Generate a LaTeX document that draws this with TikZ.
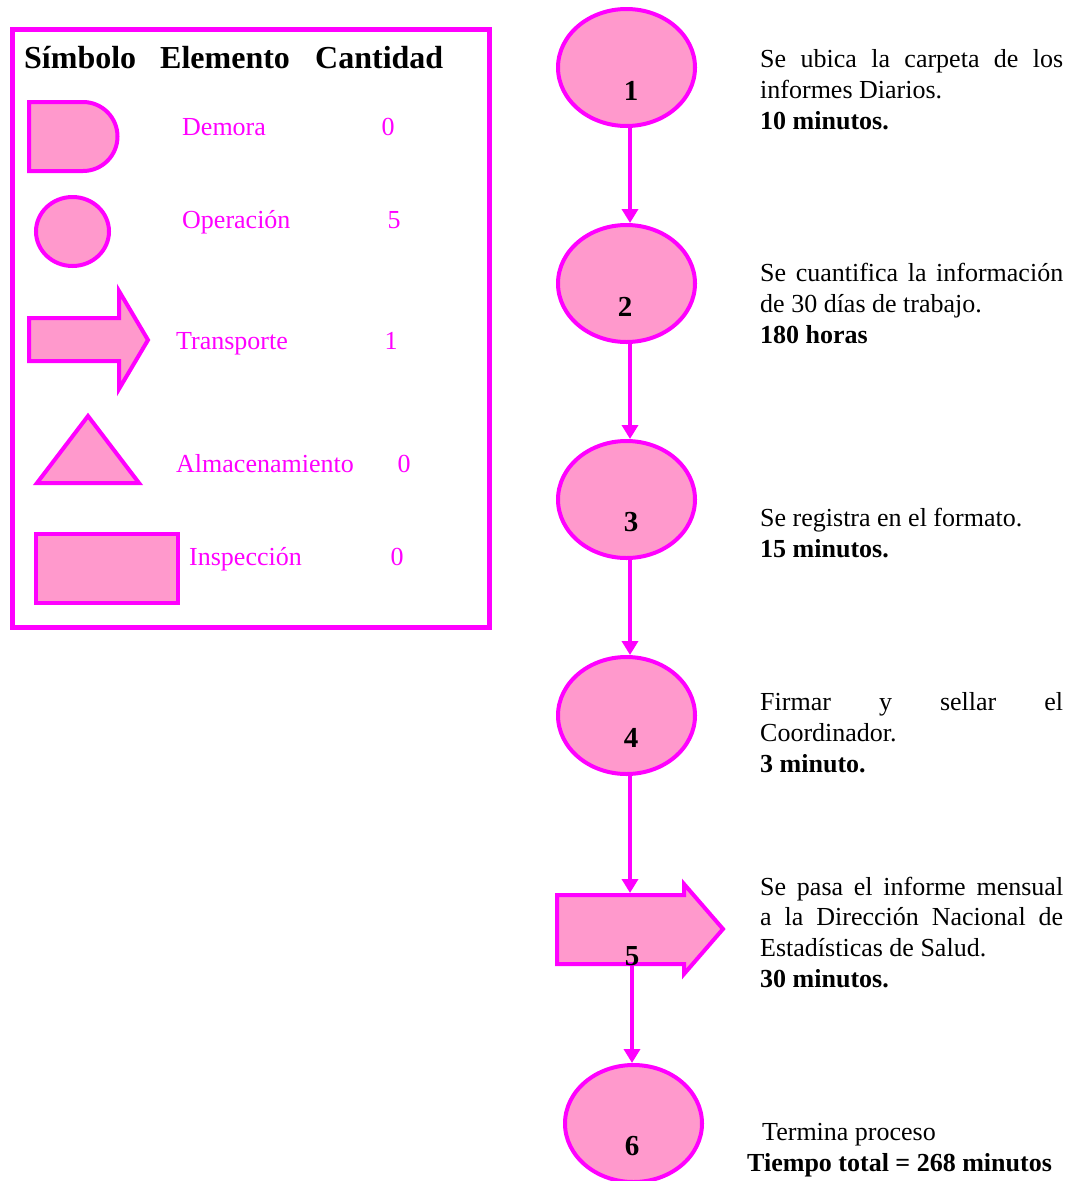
\documentclass[tikz,border=0pt]{standalone}
\usepackage{fontspec}
\setmainfont{Liberation Serif}
\usetikzlibrary{shapes.geometric,arrows.meta}
\definecolor{mag}{HTML}{FF00FF}
\definecolor{pinkfill}{HTML}{FF99CC}
\newcommand{\jline}[1]{\makebox[303pt][s]{#1}}
\begin{document}
\begin{tikzpicture}[x=1pt,y=-1pt,
  symb/.style={draw=mag,fill=pinkfill,line width=4pt,line join=miter},
  opnode/.style={ellipse,draw=mag,fill=pinkfill,line width=4pt,
    minimum width=137pt,minimum height=117pt,inner sep=0pt},
  flow/.style={draw=mag,line width=3.5pt,-{Triangle[width=16pt,length=14pt]}},
  num/.style={font=\fontsize{29}{32}\selectfont\bfseries,anchor=base,inner sep=0pt},
  legtxt/.style={font=\fontsize{26}{31}\selectfont,text=mag,anchor=base west,inner sep=0pt},
  head/.style={font=\fontsize{32}{36}\selectfont\bfseries,anchor=base west,inner sep=0pt},
  desc/.style={font=\fontsize{26}{31}\selectfont,anchor=base west,inner sep=0pt}]
\useasboundingbox (0,0) rectangle (1072,1181);

% legend frame and heading
\draw[mag,line width=5pt] (12.5,29.5) rectangle (489.5,627.5);
\node[head] (hs) at (24,68) {Símbolo};
\node[head] (he) at (160,68) {Elemento};
\node[head] (hc) at (315,68) {Cantidad};

% legend symbols
\draw[symb] (29,102) -- (83,102) arc[start angle=90,end angle=-90,radius=34.5pt] -- (29,171) -- cycle;
\draw[symb] (72.5,231.5) ellipse[x radius=36.5pt,y radius=34.5pt];
\draw[symb] (29,318) -- (119,318) -- (119,291) -- (148,340) -- (119,389) -- (119,361) -- (29,361) -- cycle;
\draw[symb] (88,416) -- (139,483) -- (37,483) -- cycle;
\draw[symb] (36,534) rectangle (178,603);

% legend labels and counts
\node[legtxt] (ld) at (182,135) {Demora};
\node[legtxt] (lo) at (182,228) {Operación};
\node[legtxt] (lt) at (176,349) {Transporte};
\node[legtxt] (la) at (176,472) {Almacenamiento};
\node[legtxt] (li) at (189,565) {Inspección};
\node[legtxt,anchor=base] (qd) at (388,135) {0};
\node[legtxt,anchor=base] (qo) at (394,228) {5};
\node[legtxt,anchor=base] (qt) at (391,349) {1};
\node[legtxt,anchor=base] (qa) at (404,472) {0};
\node[legtxt,anchor=base] (qi) at (397,565) {0};

% process steps
\node[opnode] (c1) at (626.5,67.5) {};
\node[opnode] (c2) at (626.5,283.5) {};
\node[opnode] (c3) at (626.5,499.5) {};
\node[opnode] (c4) at (626.5,715.5) {};
\draw[symb] (557,895) -- (684,895) -- (684,884) -- (723,929) -- (684,974) -- (684,964) -- (557,964) -- cycle;
\coordinate (t5top) at (630,893);
\coordinate (t5bot) at (632,966);
\node[opnode] (c6) at (633.5,1123.5) {};

\node[num] (n1) at (631,100) {1};
\node[num] (n2) at (625,316) {2};
\node[num] (n3) at (631,531) {3};
\node[num] (n4) at (631,747) {4};
\node[num] (n5) at (632,965) {5};
\node[num] (n6) at (632,1155) {6};

% connectors
\draw[flow] (c1.south -| 630,0) -- (c2.north -| 630,0);
\draw[flow] (c2.south -| 630,0) -- (c3.north -| 630,0);
\draw[flow] (c3.south -| 630,0) -- (c4.north -| 630,0);
\draw[flow] (c4.south -| 630,0) -- (t5top);
\draw[flow] (t5bot) -- (c6.north -| 632,0);

% step descriptions, one node per line
\node[desc] (d1a) at (760,67) {\jline{Se ubica la carpeta de los}};
\node[desc] (d1b) at (760,98) {informes Diarios.};
\node[desc] (d1c) at (760,129) {\textbf{10 minutos.}};
\node[desc] (d2a) at (760,281) {\jline{Se cuantifica la información}};
\node[desc] (d2b) at (760,312) {de 30 días de trabajo.};
\node[desc] (d2c) at (760,343) {\textbf{180 horas}};
\node[desc] (d3a) at (760,526) {Se registra en el formato.};
\node[desc] (d3b) at (760,557) {\textbf{15 minutos.}};
\node[desc] (d4a) at (760,710) {\jline{Firmar y sellar el}};
\node[desc] (d4b) at (760,741) {Coordinador.};
\node[desc] (d4c) at (760,772) {\textbf{3 minuto.}};
\node[desc] (d5a) at (760,895) {\jline{Se pasa el informe mensual}};
\node[desc] (d5b) at (760,925) {\jline{a la Dirección Nacional de}};
\node[desc] (d5c) at (760,956) {Estadísticas de Salud.};
\node[desc] (d5d) at (760,987) {\textbf{30 minutos.}};
\node[desc] (d6a) at (762,1140) {Termina proceso};
\node[desc] (d6b) at (747,1171) {\textbf{Tiempo total = 268 minutos}};
\end{tikzpicture}
\end{document}
